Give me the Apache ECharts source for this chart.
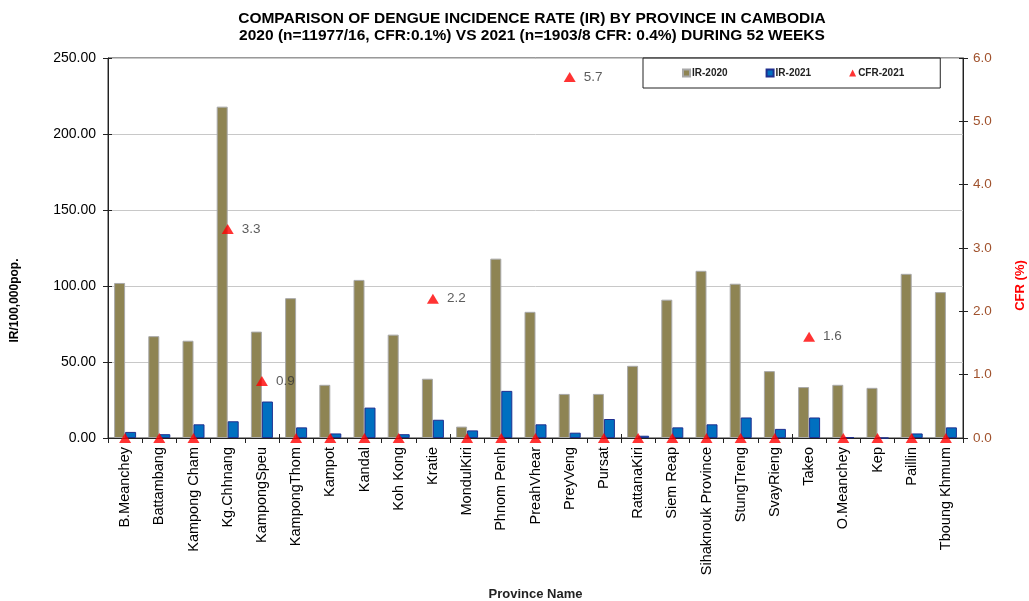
<!DOCTYPE html>
<html>
<head>
<meta charset="utf-8">
<script src="https://cdn.jsdelivr.net/npm/echarts@6/dist/echarts.min.js"></script>
<style>html,body{margin:0;padding:0;background:#fff;}#c{width:1029px;height:601px;}</style>
</head>
<body>
<div id="c"></div>
<script>
const provinces = ['B.Meanchey','Battambang','Kampong Cham','Kg.Chhnang','KampongSpeu','KampongThom','Kampot','Kandal','Koh Kong','Kratie','MondulKiri','Phnom Penh','PreahVhear','PreyVeng','Pursat','RattanaKiri','Siem Reap','Sihaknouk Province','StungTreng','SvayRieng','Takeo','O.Meanchey','Kep','Paillin','Tboung Khmum'];
const ir2020 = [102, 67, 64, 218, 70, 92, 35, 104, 68, 39, 7.5, 118, 83, 29, 29, 47.5, 91, 110, 101.5, 44, 33.5, 35, 33, 108, 96];
const ir2021 = [4, 2.5, 9, 11, 24, 7, 3, 20, 2.5, 12, 5, 31, 9, 3.5, 12.5, 1.5, 7, 9, 13.5, 6, 13.5, 0.5, 0, 3, 7];
const cfr2021 = [0, 0, 0, 3.3, 0.9, 0, 0, 0, 0, 2.2, 0, 0, 0, 5.7, 0, 0, 0, 0, 0, 0, 1.6, 0, 0, 0, 0];
const leftTicks = [0, 50, 100, 150, 200, 250];
const rightTicks = [0, 1, 2, 3, 4, 5, 6];

const FONT = 'Liberation Sans, Arial, sans-serif';
const tickStyle = {color: '#222'};
const chart = echarts.init(document.getElementById('c'), null, {renderer: 'canvas'});
chart.setOption({
  animation: false,
  backgroundColor: '#fff',
  textStyle: {fontFamily: FONT},
  title: {
    text: 'COMPARISON OF DENGUE INCIDENCE RATE (IR) BY PROVINCE IN CAMBODIA\n2020 (n=11977/16, CFR:0.1%) VS 2021 (n=1903/8 CFR: 0.4%) DURING 52 WEEKS',
    left: 527,
    top: 5,
    textAlign: 'center',
    textStyle: {fontFamily: FONT, fontSize: 15.5, fontWeight: 'bold', color: '#000', lineHeight: 17}
  },
  legend: {
    left: 643, top: 58,
    padding: [10, 36, 10, 39],
    borderColor: '#222', borderWidth: 1,
    itemWidth: 7, itemHeight: 7, itemGap: 38,
    textStyle: {fontFamily: FONT, fontSize: 10, fontWeight: 'bold', color: '#222', padding: [0,0,0,-3]},
    data: [
      {name: 'IR-2020', icon: 'rect'},
      {name: 'IR-2021', icon: 'rect'},
      {name: 'CFR-2021', icon: 'triangle'}
    ]
  },
  grid: {left: 108, right: 66, top: 58, bottom: 163, outerBoundsMode: 'none', containLabel: false,
         show: true, borderColor: '#333', borderWidth: 1, backgroundColor: 'transparent'},
  xAxis: [
    {
      type: 'category',
      data: provinces,
      name: 'Province Name',
      nameLocation: 'middle',
      nameGap: 150,
      nameTextStyle: {fontFamily: FONT, fontSize: 13, fontWeight: 'bold', color: '#222'},
      axisLine: {lineStyle: {color: '#222'}},
      axisTick: {show: true, length: 5, lineStyle: tickStyle},
      axisLabel: {rotate: 90, fontSize: 14.5, color: '#000', margin: 9, interval: 0}
    },
    {
      type: 'category', data: provinces, position: 'bottom', offset: 0,
      axisLine: {show: false},
      axisTick: {show: true, inside: true, length: 4, lineStyle: tickStyle},
      axisLabel: {show: false}
    }
  ],
  yAxis: [
    {
      type: 'value', min: 0, max: 250, interval: 50,
      name: 'IR/100,000pop.',
      nameLocation: 'middle',
      nameGap: 87,
      nameRotate: 90,
      nameTextStyle: {fontFamily: FONT, fontSize: 12, fontWeight: 'bold', color: '#000', padding: [0, 0, 0, -105]},
      axisLine: {show: true, lineStyle: {color: '#222'}},
      axisTick: {show: true, length: 5, lineStyle: tickStyle},
      axisLabel: {fontSize: 14, color: '#000', margin: 12, formatter: v => v.toFixed(2)},
      splitLine: {show: true, lineStyle: {color: '#C8C8C8'}}
    },
    {
      type: 'value', min: 0, max: 6, interval: 1,
      name: 'CFR (%)',
      nameLocation: 'middle',
      nameGap: 51,
      nameRotate: 90,
      nameTextStyle: {fontFamily: FONT, fontSize: 13, fontWeight: 'bold', color: '#FF0000', padding: [0, 0, 0, -75]},
      axisLine: {show: true, lineStyle: {color: '#222'}},
      axisTick: {show: true, length: 5, lineStyle: tickStyle},
      axisLabel: {fontSize: 13.5, color: '#A0522D', margin: 10, formatter: v => v.toFixed(1)},
      splitLine: {show: false}
    },
    {
      type: 'value', min: 0, max: 250, interval: 50, position: 'left', offset: 0,
      axisLine: {show: false}, axisLabel: {show: false}, splitLine: {show: false},
      axisTick: {show: true, inside: true, length: 4, lineStyle: tickStyle}
    },
    {
      type: 'value', min: 0, max: 6, interval: 1, position: 'right', offset: 0,
      axisLine: {show: false}, axisLabel: {show: false}, splitLine: {show: false},
      axisTick: {show: true, inside: true, length: 4, lineStyle: tickStyle}
    }
  ],
  series: [
    {
      name: 'IR-2020', type: 'bar', data: ir2020, yAxisIndex: 0, xAxisIndex: 0,
      barWidth: 11, barGap: '0%',
      itemStyle: {color: '#8E8453', borderColor: '#A8A8A8', borderWidth: 1}
    },
    {
      name: 'IR-2021', type: 'bar', data: ir2021, yAxisIndex: 0, xAxisIndex: 0,
      barWidth: 11, barGap: '0%',
      itemStyle: {color: '#0070C0', borderColor: '#1F2F8F', borderWidth: 1}
    },
    {
      name: 'CFR-2021', type: 'scatter', data: cfr2021, yAxisIndex: 1, xAxisIndex: 0,
      symbol: 'triangle', symbolSize: [12, 10], clip: false, z: 5,
      itemStyle: {color: '#FF0000'},
      label: {
        show: true, position: 'right', distance: 8, fontSize: 13.5, color: '#333',
        formatter: p => (p.value > 0 ? p.value.toFixed(1) : '')
      }
    }
  ]
});
</script>
</body>
</html>
